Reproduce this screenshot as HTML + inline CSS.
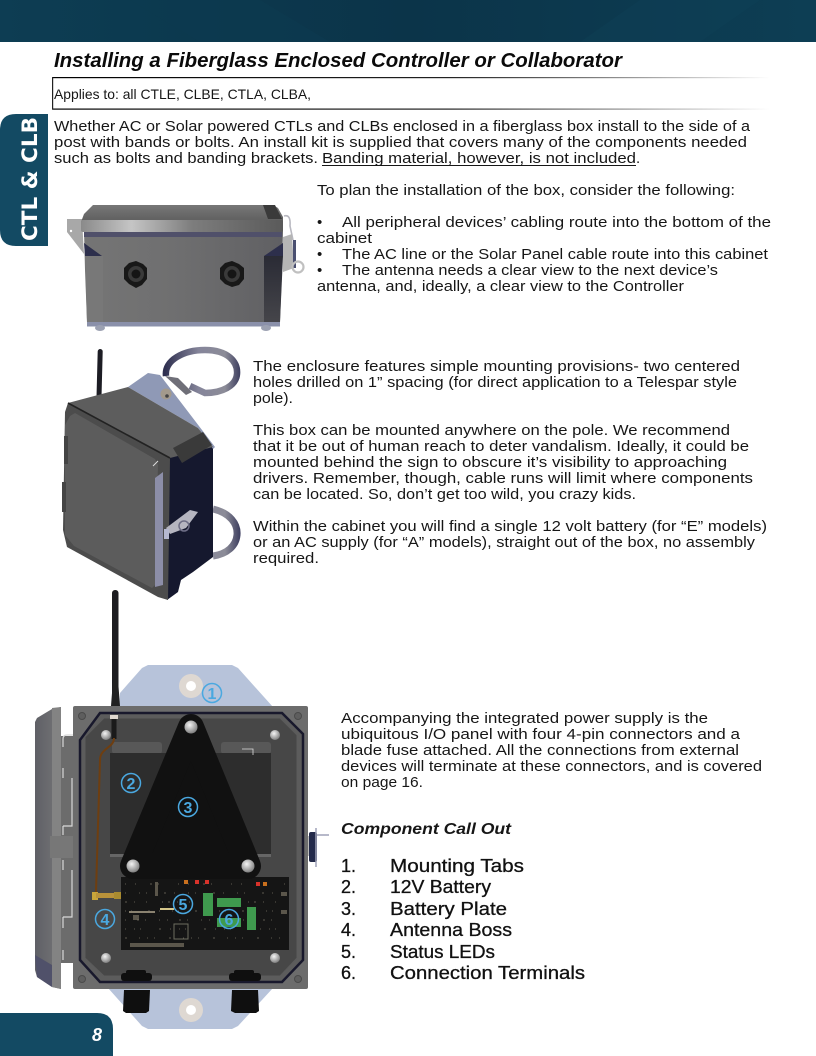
<!DOCTYPE html>
<html><head><meta charset="utf-8">
<style>
html,body{margin:0;padding:0;background:#fff;width:816px;height:1056px;overflow:hidden}
svg{display:block}
text{font-family:"Liberation Sans",sans-serif;fill:#161616}
.b{font-size:15px}
.l{font-size:18px;fill:#111;stroke:#111;stroke-width:.3px}
.c{font-size:16px;font-weight:bold;fill:#4aa8e0;text-anchor:middle}
</style></head><body>
<svg width="816" height="1056" viewBox="0 0 816 1056" xmlns="http://www.w3.org/2000/svg">
<defs>
<linearGradient id="fade" x1="0" x2="1" y1="0" y2="0"><stop offset="0" stop-color="#000"/><stop offset=".55" stop-color="#222"/><stop offset="1" stop-color="#000" stop-opacity="0"/></linearGradient>
<linearGradient id="hd" x1="0" x2="1" y1="0" y2="0"><stop offset="0" stop-color="#0d3d53"/><stop offset=".5" stop-color="#0b3449"/><stop offset="1" stop-color="#0d3e54"/></linearGradient>
<linearGradient id="body1" x1="0" x2="1" y1="0" y2="0"><stop offset="0" stop-color="#757575"/><stop offset=".45" stop-color="#6f6f70"/><stop offset="1" stop-color="#606063"/></linearGradient>
<linearGradient id="lid1" x1="0" x2="0" y1="0" y2="1"><stop offset="0" stop-color="#777"/><stop offset="1" stop-color="#5e5e5e"/></linearGradient>
<linearGradient id="rim" x1="0" x2="1" y1="0" y2="0"><stop offset="0" stop-color="#8a8a8a"/><stop offset=".25" stop-color="#c5c5c5"/><stop offset=".55" stop-color="#7d7d7d"/><stop offset="1" stop-color="#5a5a5a"/></linearGradient>
<linearGradient id="side1" x1="0" x2="0" y1="0" y2="1"><stop offset="0" stop-color="#2a2b35"/><stop offset="1" stop-color="#45454a"/></linearGradient>
<linearGradient id="strap" gradientUnits="userSpaceOnUse" x1="165" x2="240" y1="0" y2="0"><stop offset="0" stop-color="#2f3050"/><stop offset=".45" stop-color="#85859a"/><stop offset=".8" stop-color="#8c8c98"/><stop offset="1" stop-color="#3e3f60"/></linearGradient>
<linearGradient id="door" x1="0" x2="1" y1="0" y2="0"><stop offset="0" stop-color="#5f6066"/><stop offset="1" stop-color="#757577"/></linearGradient>
<radialGradient id="scr" cx=".4" cy=".35" r=".7"><stop offset="0" stop-color="#f4f4f4"/><stop offset="1" stop-color="#777"/></radialGradient>
</defs>

<!-- header -->
<rect width="816" height="42" fill="url(#hd)"/>
<polygon points="130,0 200,42 330,42 260,0" fill="#0e3b50" opacity=".6"/>
<polygon points="640,0 580,42 700,42 760,0" fill="#0f4057" opacity=".4"/>

<!-- side tab -->
<path d="M48 114H16Q0 114 0 130V230Q0 246 16 246H48Z" fill="#134a63"/>
<text transform="translate(37,241) rotate(-90)" textLength="124" lengthAdjust="spacingAndGlyphs" style="font-family:'DejaVu Sans',sans-serif;font-size:21px;font-weight:bold;fill:#fff">CTL &amp; CLB</text>

<!-- footer tab -->
<path d="M0 1013H97Q113 1013 113 1029V1056H0Z" fill="#134a63"/>
<text x="92" y="1041" style="font-size:18px;font-weight:bold;font-style:italic;fill:#fff">8</text>

<!-- title -->
<text x="54" y="67" textLength="568" lengthAdjust="spacingAndGlyphs" style="font-size:20px;font-weight:bold;font-style:italic;fill:#0a0a0a">Installing a Fiberglass Enclosed Controller or Collaborator</text>
<rect x="52" y="77" width="718" height="1.2" fill="url(#fade)"/>
<rect x="52" y="108.5" width="718" height="1.2" fill="url(#fade)"/>
<rect x="52" y="77" width="1.2" height="32.5" fill="#222"/>
<text x="54" y="99" textLength="257" lengthAdjust="spacingAndGlyphs" style="font-size:14px">Applies to: all CTLE, CLBE, CTLA, CLBA,</text>

<!-- body text -->
<text class="b" x="54" y="131" textLength="696" lengthAdjust="spacingAndGlyphs">Whether AC or Solar powered CTLs and CLBs enclosed in a fiberglass box install to the side of a</text>
<text class="b" x="54" y="147" textLength="693" lengthAdjust="spacingAndGlyphs">post with bands or bolts. An install kit is supplied that covers many of the components needed</text>
<text class="b" x="54" y="163" textLength="264" lengthAdjust="spacingAndGlyphs">such as bolts and banding brackets.</text>
<text class="b" x="322" y="163" textLength="314" lengthAdjust="spacingAndGlyphs">Banding material, however, is not included</text>
<rect x="322" y="165" width="314" height="1" fill="#161616"/>
<text class="b" x="636" y="163">.</text>

<text class="b" x="317" y="195" textLength="418" lengthAdjust="spacingAndGlyphs">To plan the installation of the box, consider the following:</text>
<text class="b" x="317" y="227">•</text>
<text class="b" x="342" y="227" textLength="429" lengthAdjust="spacingAndGlyphs">All peripheral devices’ cabling route into the bottom of the</text>
<text class="b" x="317" y="243" textLength="55" lengthAdjust="spacingAndGlyphs">cabinet</text>
<text class="b" x="317" y="259">•</text>
<text class="b" x="342" y="259" textLength="426" lengthAdjust="spacingAndGlyphs">The AC line or the Solar Panel cable route into this cabinet</text>
<text class="b" x="317" y="275">•</text>
<text class="b" x="342" y="275" textLength="376" lengthAdjust="spacingAndGlyphs">The antenna needs a clear view to the next device’s</text>
<text class="b" x="317" y="291" textLength="367" lengthAdjust="spacingAndGlyphs">antenna, and, ideally, a clear view to the Controller</text>

<text class="b" x="253" y="371" textLength="487" lengthAdjust="spacingAndGlyphs">The enclosure features simple mounting provisions-  two centered</text>
<text class="b" x="253" y="387" textLength="484" lengthAdjust="spacingAndGlyphs">holes drilled on 1” spacing (for direct application to a Telespar style</text>
<text class="b" x="253" y="403" textLength="40" lengthAdjust="spacingAndGlyphs">pole).</text>
<text class="b" x="253" y="435" textLength="477" lengthAdjust="spacingAndGlyphs">This box can be mounted anywhere on the pole. We recommend</text>
<text class="b" x="253" y="451" textLength="496" lengthAdjust="spacingAndGlyphs">that it be out of human reach to deter vandalism. Ideally, it could be</text>
<text class="b" x="253" y="467" textLength="474" lengthAdjust="spacingAndGlyphs">mounted behind the sign to obscure it’s visibility to approaching</text>
<text class="b" x="253" y="483" textLength="500" lengthAdjust="spacingAndGlyphs">drivers. Remember, though, cable runs will limit where components</text>
<text class="b" x="253" y="499" textLength="383" lengthAdjust="spacingAndGlyphs">can be located. So, don’t get too wild, you crazy kids.</text>
<text class="b" x="253" y="531" textLength="514" lengthAdjust="spacingAndGlyphs">Within the cabinet you will find a single 12 volt battery (for “E” models)</text>
<text class="b" x="253" y="547" textLength="502" lengthAdjust="spacingAndGlyphs">or an AC supply (for “A” models), straight out of the box, no assembly</text>
<text class="b" x="253" y="563" textLength="66" lengthAdjust="spacingAndGlyphs">required.</text>

<text class="b" x="341" y="723" textLength="367" lengthAdjust="spacingAndGlyphs">Accompanying the integrated power supply is the</text>
<text class="b" x="341" y="739" textLength="399" lengthAdjust="spacingAndGlyphs">ubiquitous I/O panel with four 4-pin connectors and a</text>
<text class="b" x="341" y="755" textLength="398" lengthAdjust="spacingAndGlyphs">blade fuse attached. All the connections from external</text>
<text class="b" x="341" y="771" textLength="421" lengthAdjust="spacingAndGlyphs">devices will terminate at these connectors, and is covered</text>
<text class="b" x="341" y="787" textLength="82" lengthAdjust="spacingAndGlyphs">on page 16.</text>
<text x="341" y="834" textLength="170" lengthAdjust="spacingAndGlyphs" style="font-size:15.5px;font-weight:bold;font-style:italic">Component Call Out</text>

<text class="l" x="341" y="872">1.</text><text class="l" x="390" y="872" textLength="134" lengthAdjust="spacingAndGlyphs">Mounting Tabs</text>
<text class="l" x="341" y="893">2.</text><text class="l" x="390" y="893" textLength="101" lengthAdjust="spacingAndGlyphs">12V Battery</text>
<text class="l" x="341" y="915">3.</text><text class="l" x="390" y="915" textLength="117" lengthAdjust="spacingAndGlyphs">Battery Plate</text>
<text class="l" x="341" y="936">4.</text><text class="l" x="390" y="936" textLength="122" lengthAdjust="spacingAndGlyphs">Antenna Boss</text>
<text class="l" x="341" y="958">5.</text><text class="l" x="390" y="958" textLength="105" lengthAdjust="spacingAndGlyphs">Status LEDs</text>
<text class="l" x="341" y="979">6.</text><text class="l" x="390" y="979" textLength="195" lengthAdjust="spacingAndGlyphs">Connection Terminals</text>

<!-- enclosure 1 : side view -->
<g>
<rect x="87" y="322" width="193" height="4.500" fill="#8a90aa"/>
<ellipse cx="100" cy="328" rx="5" ry="3" fill="#9ca1b2"/><ellipse cx="266" cy="328" rx="5" ry="3" fill="#9ca1b2"/>
<polygon points="67,219 82,219 84,254 67,232" fill="#a8a8a8"/>
<circle cx="71" cy="231" r="1.2" fill="#fff"/>
<path d="M284 216 Q291 214 290 226 L293 240" fill="none" stroke="#b8b8c0" stroke-width="1.6"/>
<polygon points="283,237 292,234 294,268 283,272" fill="#b5b5b5"/>
<rect x="293" y="240" width="3" height="28" fill="#4a4f70"/>
<circle cx="298" cy="267" r="5.500" fill="none" stroke="#c0c0c0" stroke-width="2.200"/>
<polygon points="84,230 283,230 282,270 280,322 87,322 85,270" fill="url(#body1)"/>
<polygon points="84,243 102,256 85,256" fill="#2d2f4c"/>
<polygon points="283,243 264,256 283,256" fill="#2d2f4c"/>
<polygon points="264,256 283,256 280,322 264,322" fill="url(#side1)"/>
<polygon points="85,256 103,256 103,322 87,322" fill="#787878"/>
<polygon points="93,205 273,205 278,208 283,217 283,222 81,222 84,214" fill="url(#lid1)"/>
<polygon points="263,205 275,205 282,219 268,219" fill="#3a3a3a"/>
<rect x="81" y="220" width="202" height="12" rx="2" fill="url(#rim)"/>
<rect x="84" y="232" width="198" height="5" fill="#50506a"/>
<polygon points="124,268 129,263 136,261 143,264 147,268 147,279 142,285 136,288 129,284 124,279" fill="#181818"/>
<circle cx="136" cy="274" r="8" fill="#3a3a3a"/><circle cx="136" cy="274" r="4.500" fill="#151515"/>
<polygon points="220,268 225,263 232,261 239,264 244,268 244,279 239,285 232,287 225,284 220,279" fill="#181818"/>
<circle cx="232" cy="274" r="8" fill="#3a3a3a"/><circle cx="232" cy="274" r="4.500" fill="#151515"/>
</g>

<!-- enclosure 2 : isometric -->
<g>
<path d="M166 376 C164 360 184 350 205 350 C228 350 238 362 237 374 C236 386 222 393 205 393 L190 386" fill="none" stroke="url(#strap)" stroke-width="6.500"/>
<polygon points="165,376 178,378 192,392 186,395" fill="#6f6f78"/>
<path d="M213 509 C230 513 238 524 237 535 C236 546 227 554 213 556" fill="none" stroke="url(#strap)" stroke-width="7"/>
<rect x="97" y="349" width="5" height="56" rx="2.500" fill="#1d1d24" transform="rotate(1.500 99 378)"/>
<ellipse cx="97" cy="408" rx="3.500" ry="2.500" fill="#8a8a8a"/>
<polygon points="168,458 213,445 213,557 193,572 181,580 178,592 167,600" fill="#15182e"/>
<polygon points="128,387 148,373 160,375 215,447 213,449 198,428" fill="#8f99b6"/>
<polygon points="68,403 128,387 198,428 213,447 170,458" fill="#5d5d5d"/>
<polygon points="173,448 203,432 212,445 182,463" fill="#3a3a3a"/>
<circle cx="166" cy="394" r="5.500" fill="#a39a8c"/><circle cx="167" cy="396" r="1.800" fill="#444"/>
<polygon points="65,412 68,403 170,458 168,600 158,597 67,547 63,530" fill="#4c4c4c"/>
<line x1="68" y1="403" x2="170" y2="458" stroke="#222" stroke-width="1.600"/>
<polygon points="65,425 70,416 75,413 155,459 158,465 155,585 152,588 74,546 65,535" fill="#5c5c5c"/>
<line x1="153" y1="466" x2="158" y2="461" stroke="#ddd" stroke-width="1"/>
<polygon points="155,478 163,472 163,585 155,587" fill="#8c8ea8"/>
<rect x="64" y="436" width="4" height="28" fill="#444"/><rect x="62" y="482" width="4" height="30" fill="#444"/>
<path d="M166 528 L190 510 L198 512 L186 528 L170 534" fill="#b5b5c0"/>
<rect x="164" y="529" width="5" height="10" fill="#b5b8d0"/>
<circle cx="184" cy="526" r="5" fill="none" stroke="#6d6d85" stroke-width="1.500"/>
</g>

<!-- enclosure 3 : open -->
<g>
<polygon points="120,693 142,668 148,665 232,665 238,668 273,707 273,988 238,1026 232,1029 148,1029 142,1026 108,988" fill="#b7c3da"/>
<circle cx="191" cy="686" r="12" fill="#ded8d2"/><circle cx="191" cy="686" r="5" fill="#fff"/>
<circle cx="191" cy="1010" r="12" fill="#ded8d2"/><circle cx="191" cy="1010" r="5" fill="#fff"/>
<rect x="112" y="590" width="6.500" height="112" rx="3" fill="#1c1c20"/>
<polygon points="111,706 113,680 118,680 120,706" fill="#222"/>
<!-- door -->
<polygon points="35,722 37,718 52,709 61,707 61,989 52,987 37,977 35,970" fill="url(#door)"/>
<polygon points="52,708 61,707 61,989 52,987" fill="#838383"/>
<polygon points="35,955 52,965 52,987 37,977" fill="#50516a"/>
<rect x="61" y="736" width="12" height="227" fill="#6c6c6c"/>
<rect x="50" y="836" width="23" height="22" fill="#777"/>
<path d="M63 747V739Q63 735 67 735H73 M63 768V778 M72 778V826H63 M63 826V835 M63 860V870 M72 870V917H63 M63 917V928 M63 950V960" fill="none" stroke="#d8d8d8" stroke-width="1.200"/>
<!-- latch -->
<path d="M306 836h6v20h-6z" fill="#bbb"/>
<rect x="309" y="832" width="8" height="30" rx="2" fill="#232a4a"/>
<path d="M316 828V867M317 835H329" stroke="#9fa2b8" stroke-width="1.500" fill="none"/>
<!-- box -->
<rect x="73" y="706" width="235" height="283" rx="2" fill="#6c6c6c"/>
<polygon points="100,713 282,713 303,734 303,960 282,982 100,982 80,960 80,740" fill="#5c5c5c" stroke="#18182c" stroke-width="2.500"/>
<polygon points="104,718 280,718 297,735 297,958 280,976 104,976 85,958 85,737" fill="#474747" stroke="#5b5b5b" stroke-width="1"/>
<g fill="#5e5e5e" stroke="#4a4a4a"><circle cx="82" cy="716" r="3.500"/><circle cx="298" cy="716" r="3.500"/><circle cx="82" cy="979" r="3.500"/><circle cx="298" cy="979" r="3.500"/></g>
<!-- battery -->
<rect x="112" y="742" width="50" height="12" rx="3" fill="#585858"/>
<rect x="221" y="742" width="50" height="12" rx="3" fill="#585858"/>
<rect x="110" y="753" width="161" height="104" fill="#2d2d2d"/>
<rect x="110" y="854" width="161" height="3" fill="#666"/>
<path d="M242 749h11v6" fill="none" stroke="#ddd" stroke-width=".8"/>
<!-- cable -->
<rect x="110" y="715" width="8" height="4" fill="#e0d8d0"/>
<rect x="111.500" y="719" width="5" height="20" fill="#1a1a1a"/>
<path d="M114 738C114 748 100 748 100 760L96 892" fill="none" stroke="#6e3e10" stroke-width="2"/>
<!-- PCB -->
<rect x="121" y="877" width="168" height="73" fill="#151515"/>
<polygon points="191,727 133,866 248,866" fill="#111" stroke="#111" stroke-width="26" stroke-linejoin="round"/>
<rect x="92" y="892" width="6" height="8" fill="#c9a53a"/>
<rect x="96" y="893" width="20" height="5" fill="#b9923a"/>
<rect x="114" y="892" width="7" height="7" fill="#a98b30"/>
<g fill="none" stroke="#7c766a" stroke-width="1" opacity=".7">
<line x1="125" y1="884" x2="285" y2="884" stroke-dasharray="1 9 1 14 2 6 1 19"/>
<line x1="125" y1="893" x2="285" y2="893" stroke-dasharray="1 13 1 6 1 17 2 8"/>
<line x1="125" y1="902" x2="285" y2="902" stroke-dasharray="2 7 1 11 1 15 1 5"/>
<line x1="125" y1="911" x2="285" y2="911" stroke-dasharray="1 5 1 16 2 9 1 12"/>
<line x1="125" y1="920" x2="285" y2="920" stroke-dasharray="1 11 2 6 1 13 1 7"/>
<line x1="125" y1="929" x2="285" y2="929" stroke-dasharray="1 8 1 5 1 18 2 9"/>
<line x1="125" y1="938" x2="285" y2="938" stroke-dasharray="2 12 1 7 1 6 1 14"/>
</g>
<g fill="#3f9a4e"><rect x="203" y="893" width="10" height="23"/><rect x="217" y="898" width="24" height="9"/><rect x="217" y="918" width="24" height="9"/><rect x="247" y="907" width="9" height="23"/></g>
<g fill="#d8322a"><rect x="195" y="880" width="4" height="4"/><rect x="205" y="880" width="4" height="4"/><rect x="256" y="882" width="4" height="4"/></g>
<g fill="#c9701e"><rect x="184" y="880" width="4" height="4"/><rect x="263" y="882" width="4" height="4"/></g>
<g fill="#8a8270"><rect x="130" y="943" width="54" height="4" opacity=".6"/><rect x="129" y="911" width="26" height="2"/><rect x="160" y="908" width="14" height="2" fill="#d5c68a"/><rect x="133" y="915" width="6" height="5" opacity=".6"/><rect x="174" y="924" width="14" height="15" fill="none" stroke="#6d6d60"/><rect x="155" y="882" width="3" height="14" opacity=".6"/><rect x="281" y="892" width="6" height="4" opacity=".6"/><rect x="281" y="910" width="6" height="4" opacity=".6"/></g>
<!-- screws -->
<g fill="url(#scr)"><circle cx="191" cy="727" r="6.500"/><circle cx="133" cy="866" r="6.500"/><circle cx="248" cy="866" r="6.500"/><circle cx="106" cy="735" r="5"/><circle cx="275" cy="735" r="5"/><circle cx="106" cy="958" r="5"/><circle cx="275" cy="958" r="5"/></g>
<!-- glands -->
<g fill="#0f0f0f"><rect x="121" y="973" width="31" height="8" rx="3"/><rect x="229" y="973" width="32" height="8" rx="3"/><rect x="126" y="970" width="20" height="5" rx="2"/><rect x="234" y="970" width="20" height="5" rx="2"/>
<polygon points="124,990 150,990 149,1011 146,1013 126,1013 123,1011"/><polygon points="232,990 258,990 259,1011 256,1013 235,1013 231,1011"/></g>
<!-- callouts -->
<g fill="none" stroke="#4aa8e0" stroke-width="1.500">
<circle cx="212" cy="693" r="9.500"/><circle cx="131" cy="783" r="9.500"/><circle cx="188" cy="807" r="9.500"/><circle cx="105" cy="919" r="9.500"/><circle cx="183" cy="904" r="9.500"/><circle cx="229" cy="919" r="9.500"/>
</g>
<text class="c" x="212" y="699">1</text>
<text class="c" x="131" y="789">2</text>
<text class="c" x="188" y="813">3</text>
<text class="c" x="105" y="925">4</text>
<text class="c" x="183" y="910">5</text>
<text class="c" x="229" y="925">6</text>
</g>
</svg>
</body></html>
